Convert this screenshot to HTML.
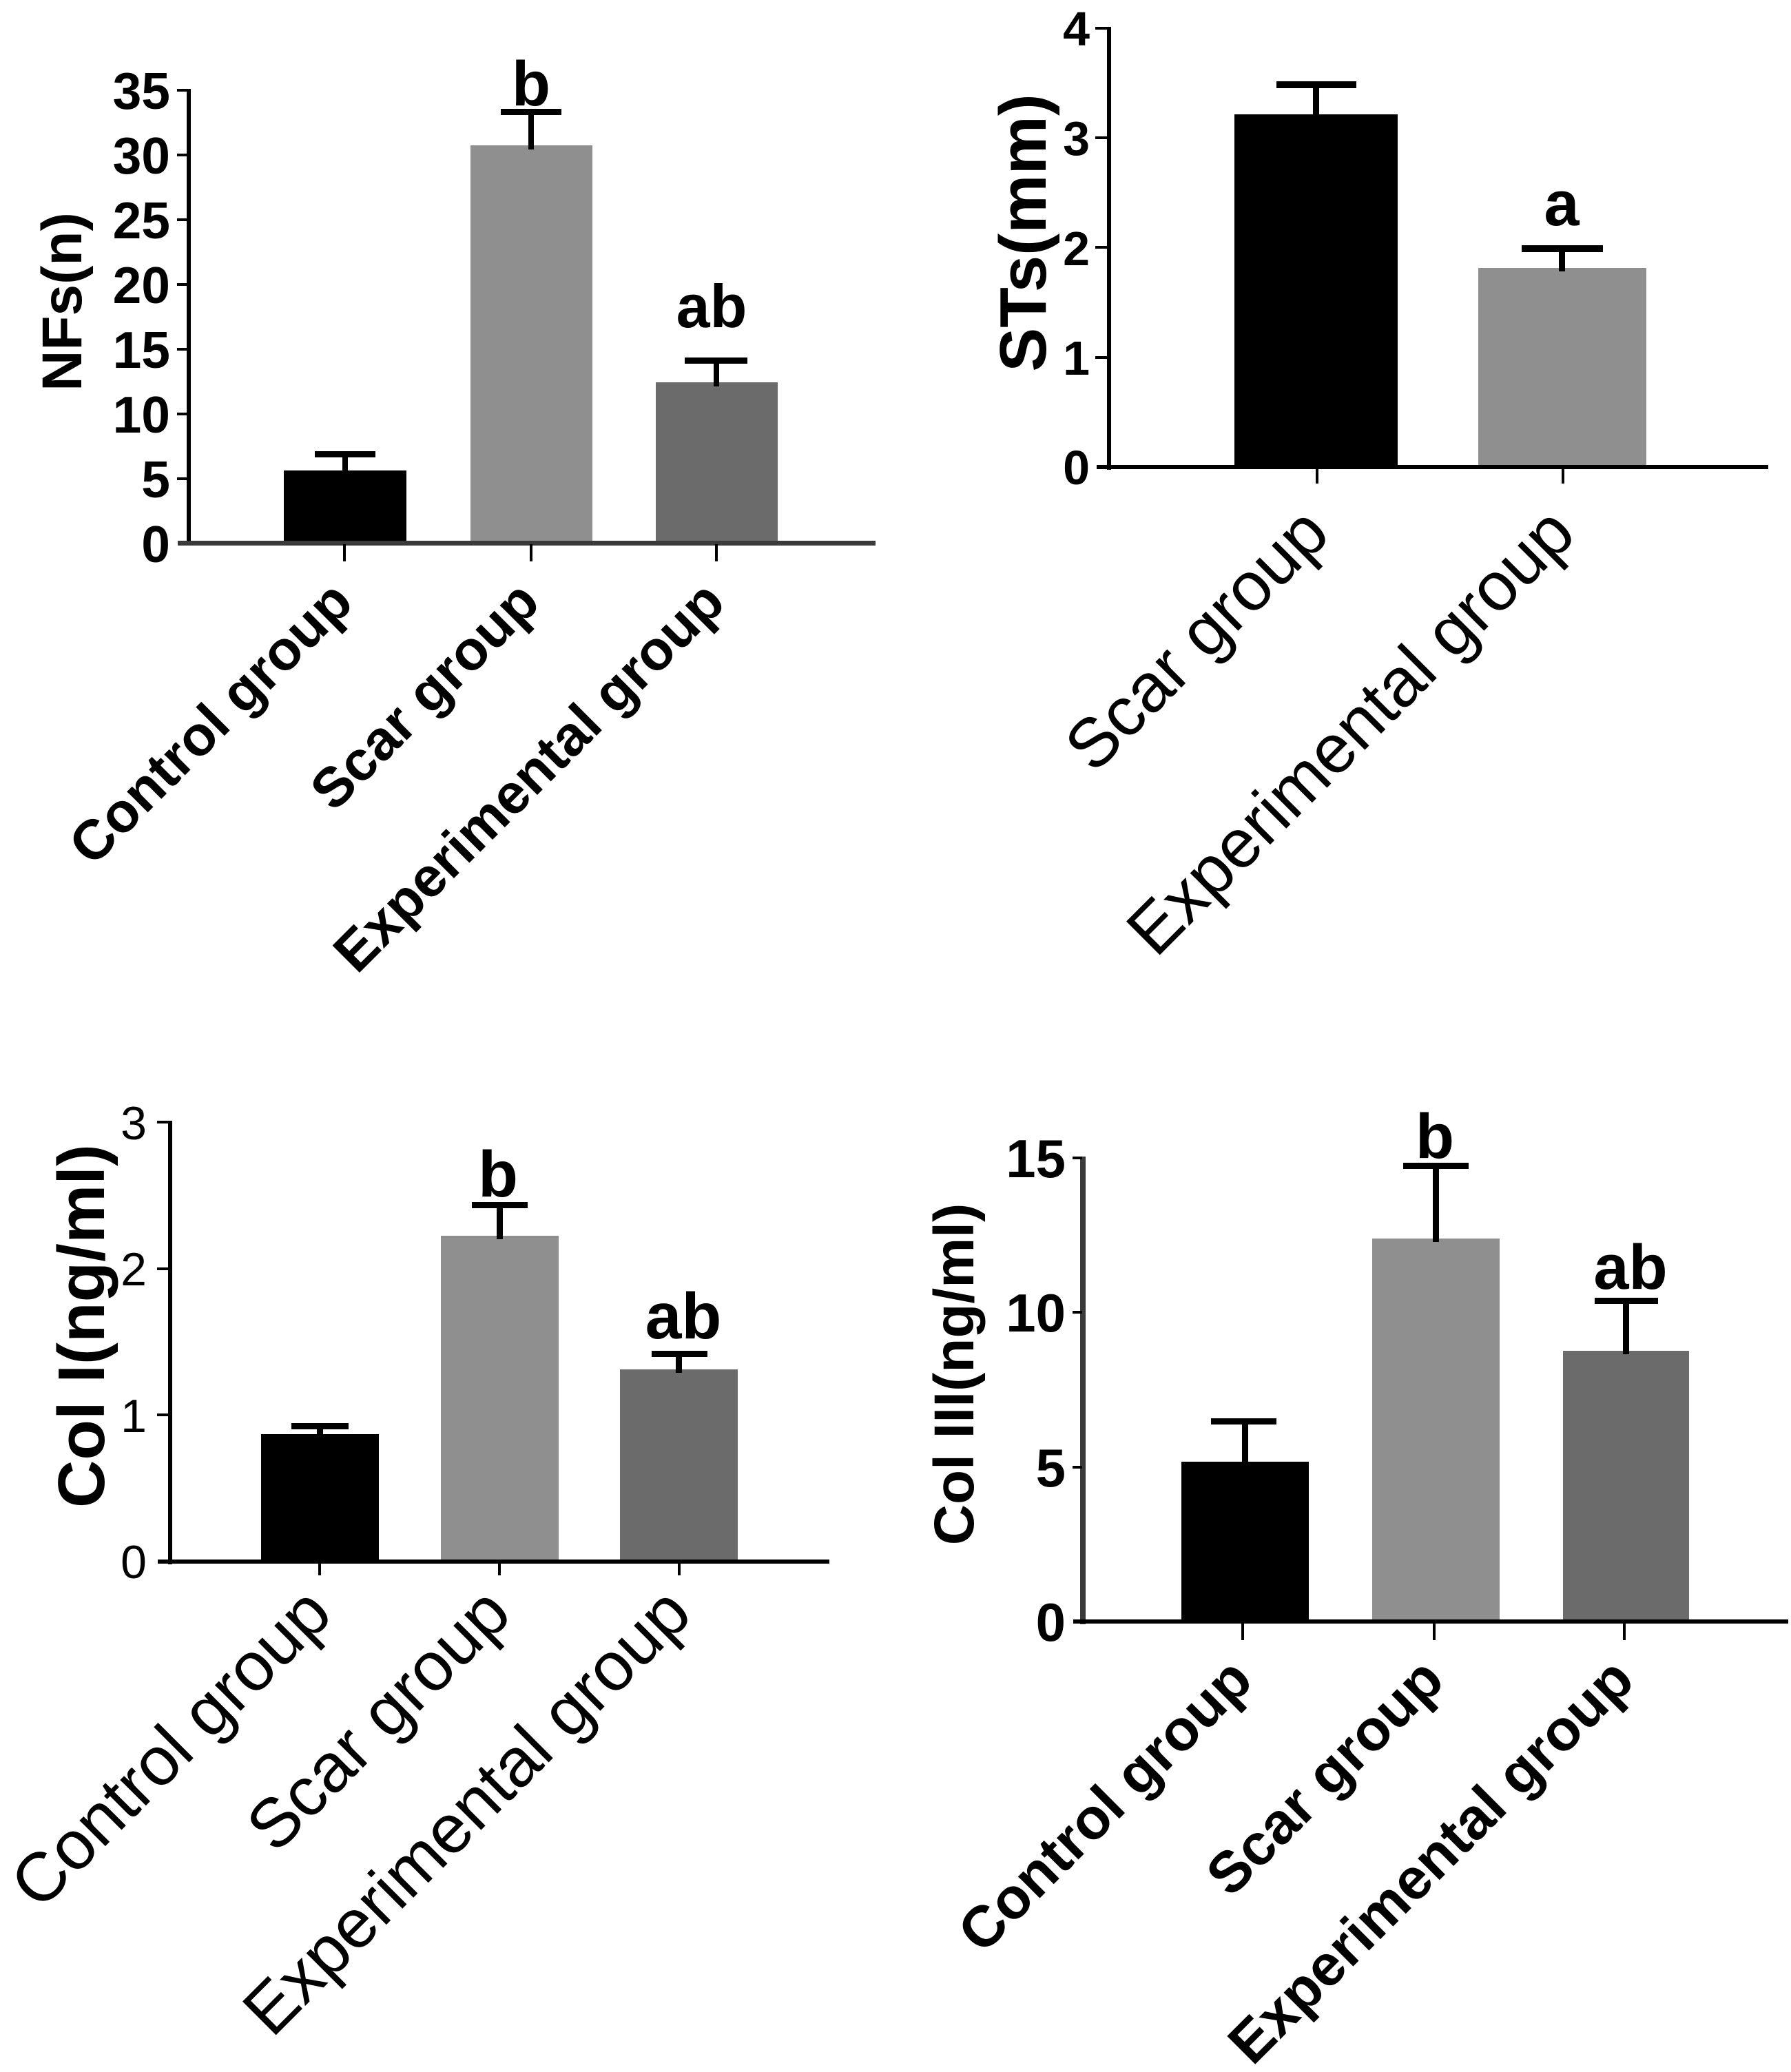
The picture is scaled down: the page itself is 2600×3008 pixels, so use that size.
<!DOCTYPE html>
<html><head><meta charset="utf-8"><style>
html,body{margin:0;padding:0;background:#fff;}
svg{display:block;}
text{font-family:"Liberation Sans",Arial,sans-serif;fill:#000;}
.b{font-weight:bold;}
</style></head><body>
<svg width="2600" height="3008" viewBox="0 0 2600 3008" xmlns="http://www.w3.org/2000/svg">
<rect width="2600" height="3008" fill="#fff"/>

<!-- ============ PANEL 1 (NFs) ============ -->
<g>
  <!-- bars -->
  <rect x="412" y="683" width="178" height="106" fill="#000"/>
  <rect x="683" y="211" width="177" height="578" fill="#8f8f8f"/>
  <rect x="952" y="555" width="177" height="234" fill="#6b6b6b"/>
  <!-- error bars -->
  <rect x="497" y="659" width="8" height="30" fill="#000"/>
  <rect x="457" y="655" width="88" height="9" fill="#000"/>
  <rect x="767" y="162" width="8" height="55" fill="#000"/>
  <rect x="727" y="158" width="88" height="9" fill="#000"/>
  <rect x="1036" y="523" width="8" height="38" fill="#000"/>
  <rect x="994" y="519" width="91" height="9" fill="#000"/>
  <!-- axes -->
  <rect x="271" y="129" width="6" height="663" fill="#000"/>
  <rect x="258" y="785" width="1013" height="7" fill="#3a3a3a"/>
  <!-- y ticks -->
  <g fill="#000">
    <rect x="257" y="129" width="16" height="4"/>
    <rect x="257" y="223" width="16" height="4"/>
    <rect x="257" y="317" width="16" height="4"/>
    <rect x="257" y="411" width="16" height="4"/>
    <rect x="257" y="505" width="16" height="4"/>
    <rect x="257" y="599" width="16" height="4"/>
    <rect x="257" y="693" width="16" height="4"/>
  </g>
  <!-- x ticks -->
  <rect x="498" y="790" width="4" height="25" fill="#000"/>
  <rect x="769" y="790" width="4" height="25" fill="#000"/>
  <rect x="1038" y="790" width="4" height="25" fill="#000"/>
  <!-- tick labels -->
  <g class="b" font-size="75" text-anchor="end">
    <text x="247" y="158">35</text>
    <text x="247" y="252">30</text>
    <text x="247" y="346">25</text>
    <text x="247" y="440">20</text>
    <text x="247" y="534">15</text>
    <text x="247" y="628">10</text>
    <text x="247" y="722">5</text>
    <text x="247" y="816">0</text>
  </g>
  <!-- y title -->
  <text class="b" font-size="82" text-anchor="middle" transform="translate(118,438) rotate(-90)">NFs(n)</text>
  <!-- sig letters -->
  <text class="b" font-size="92" text-anchor="middle" x="771" y="153">b</text>
  <text class="b" font-size="88" text-anchor="middle" x="1033" y="475">ab</text>
  <!-- x labels -->
  <g class="b" font-size="81" text-anchor="end">
    <text transform="translate(516,878) rotate(-45)">Control group</text>
    <text transform="translate(787,878) rotate(-45)">Scar group</text>
    <text transform="translate(1056,878) rotate(-45)">Experimental group</text>
  </g>
</g>

<!-- ============ PANEL 2 (STs) ============ -->
<g>
  <rect x="1792" y="166" width="237" height="512" fill="#000"/>
  <rect x="2146" y="389" width="244" height="289" fill="#8f8f8f"/>
  <rect x="1906" y="123" width="9" height="48" fill="#000"/>
  <rect x="1853" y="118" width="116" height="10" fill="#000"/>
  <rect x="2263" y="361" width="9" height="33" fill="#000"/>
  <rect x="2209" y="356" width="118" height="10" fill="#000"/>
  <!-- axes -->
  <rect x="1607" y="39" width="6" height="643" fill="#000"/>
  <rect x="1592" y="675" width="975" height="6" fill="#000"/>
  <g fill="#000">
    <rect x="1590" y="39" width="19" height="4"/>
    <rect x="1590" y="198" width="19" height="4"/>
    <rect x="1590" y="357" width="19" height="4"/>
    <rect x="1590" y="517" width="19" height="4"/>
  </g>
  <rect x="1910" y="680" width="4" height="22" fill="#000"/>
  <rect x="2267" y="680" width="4" height="22" fill="#000"/>
  <g class="b" font-size="70" text-anchor="end">
    <text x="1582" y="66">4</text>
    <text x="1582" y="225">3</text>
    <text x="1582" y="385">2</text>
    <text x="1582" y="544">1</text>
    <text x="1582" y="703">0</text>
  </g>
  <text class="b" font-size="96" text-anchor="middle" transform="translate(1518,338) rotate(-90)">STs(mm)</text>
  <text class="b" font-size="92" text-anchor="middle" x="2267" y="327">a</text>
  <g font-size="100" text-anchor="end">
    <text transform="translate(1934,779) rotate(-45)">Scar group</text>
    <text transform="translate(2291,779) rotate(-45)">Experimental group</text>
  </g>
</g>

<!-- ============ PANEL 3 (Col I) ============ -->
<g>
  <rect x="379" y="2082" width="171" height="185" fill="#000"/>
  <rect x="640" y="1794" width="171" height="473" fill="#8f8f8f"/>
  <rect x="900" y="1988" width="171" height="279" fill="#6b6b6b"/>
  <rect x="460" y="2070" width="9" height="16" fill="#000"/>
  <rect x="423" y="2066" width="83" height="9" fill="#000"/>
  <rect x="721" y="1749" width="9" height="50" fill="#000"/>
  <rect x="685" y="1745" width="81" height="9" fill="#000"/>
  <rect x="981" y="1965" width="9" height="28" fill="#000"/>
  <rect x="946" y="1961" width="81" height="9" fill="#000"/>
  <rect x="244" y="1627" width="6" height="644" fill="#000"/>
  <rect x="229" y="2264" width="975" height="6" fill="#000"/>
  <g fill="#000">
    <rect x="228" y="1627" width="18" height="4"/>
    <rect x="228" y="1840" width="18" height="4"/>
    <rect x="228" y="2052" width="18" height="4"/>
  </g>
  <rect x="462" y="2269" width="4" height="18" fill="#000"/>
  <rect x="723" y="2269" width="4" height="18" fill="#000"/>
  <rect x="984" y="2269" width="4" height="18" fill="#000"/>
  <g font-size="68" text-anchor="end">
    <text x="213" y="1654">3</text>
    <text x="213" y="1866">2</text>
    <text x="213" y="2079">1</text>
    <text x="213" y="2291">0</text>
  </g>
  <text class="b" font-size="96" text-anchor="middle" transform="translate(151,1925) rotate(-90)">Col I(ng/ml)</text>
  <text class="b" font-size="95" text-anchor="middle" x="723" y="1737">b</text>
  <text class="b" font-size="95" text-anchor="middle" x="992" y="1943">ab</text>
  <g font-size="100" text-anchor="end">
    <text transform="translate(486,2347) rotate(-45)">Control group</text>
    <text transform="translate(746,2347) rotate(-45)">Scar group</text>
    <text transform="translate(1008,2347) rotate(-45)">Experimental group</text>
  </g>
</g>

<!-- ============ PANEL 4 (Col III) ============ -->
<g>
  <rect x="1715" y="2122" width="185" height="232" fill="#000"/>
  <rect x="1992" y="1798" width="185" height="556" fill="#8f8f8f"/>
  <rect x="2269" y="1961" width="183" height="393" fill="#6b6b6b"/>
  <rect x="1803" y="2063" width="9" height="64" fill="#000"/>
  <rect x="1758" y="2059" width="95" height="9" fill="#000"/>
  <rect x="2080" y="1692" width="9" height="111" fill="#000"/>
  <rect x="2037" y="1688" width="95" height="9" fill="#000"/>
  <rect x="2356" y="1888" width="9" height="78" fill="#000"/>
  <rect x="2315" y="1884" width="92" height="9" fill="#000"/>
  <rect x="1568" y="1679" width="8" height="679" fill="#3a3a3a"/>
  <rect x="1558" y="2351" width="1038" height="6" fill="#000"/>
  <g fill="#000">
    <rect x="1557" y="1679" width="14" height="4"/>
    <rect x="1557" y="1903" width="14" height="4"/>
    <rect x="1557" y="2128" width="14" height="4"/>
  </g>
  <rect x="1802" y="2356" width="4" height="25" fill="#000"/>
  <rect x="2080" y="2356" width="4" height="25" fill="#000"/>
  <rect x="2356" y="2356" width="4" height="25" fill="#000"/>
  <g class="b" font-size="78" text-anchor="end">
    <text x="1547" y="1709">15</text>
    <text x="1547" y="1933">10</text>
    <text x="1547" y="2158">5</text>
    <text x="1547" y="2382">0</text>
  </g>
  <text class="b" font-size="82" text-anchor="middle" transform="translate(1413,1995) rotate(-90)">Col III(ng/ml)</text>
  <text class="b" font-size="92" text-anchor="middle" x="2083" y="1681">b</text>
  <text class="b" font-size="92" text-anchor="middle" x="2367" y="1871">ab</text>
  <g class="b" font-size="84" text-anchor="end">
    <text transform="translate(1822,2443) rotate(-45)">Control group</text>
    <text transform="translate(2100,2443) rotate(-45)">Scar group</text>
    <text transform="translate(2376,2443) rotate(-45)">Experimental group</text>
  </g>
</g>
</svg>
</body></html>
